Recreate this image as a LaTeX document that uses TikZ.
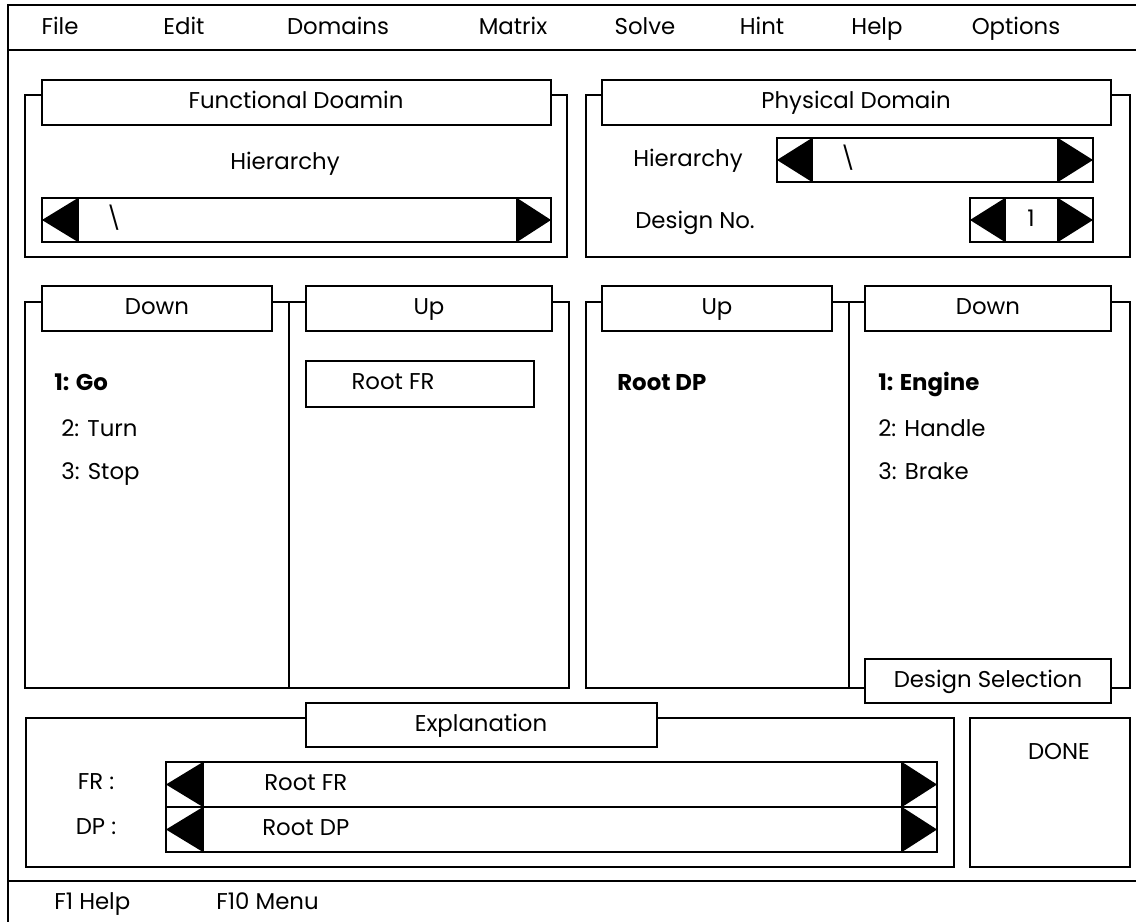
\documentclass[tikz,border=0pt]{standalone}
\usepackage{fontspec}
\setmainfont{Poppins}
\begin{document}
\begin{tikzpicture}[x=0.02cm,y=-0.02cm,
  frame/.style={line width=1.6pt},
  thin/.style={line width=1.2pt},
  titlebox/.style={line width=1.6pt,fill=white},
  lbl/.style={inner sep=0pt,text height=9.5pt,text depth=2.5pt,font=\fontsize{13}{15}\selectfont},
  lblw/.style={lbl,anchor=west},
  bold/.style={font=\fontsize{13}{15}\selectfont\bfseries}]
\useasboundingbox (0,0) rectangle (1136,922);
\fill[white] (0,0) rectangle (1136,922);

% window border, menu bar and status line
\draw[frame] (1136,5) -- (8,5) -- (8,922);
\draw[frame] (8,50) -- (1136,50);
\draw[frame] (8,881) -- (1136,881);
\node[lbl] (mFile) at (60,28) {File};
\node[lbl] (mEdit) at (184,28) {Edit};
\node[lbl] (mDom) at (338,28) {Domains};
\node[lbl] (mMat) at (513,28) {Matrix};
\node[lbl] (mSol) at (645,28) {Solve};
\node[lbl] (mHint) at (762,28) {Hint};
\node[lbl] (mHelp) at (877,28) {Help};
\node[lbl] (mOpt) at (1016,28) {Options};
\node[lblw] (f1) at (54,903) {F1 Help};
\node[lblw] (f10) at (216,903) {F10 Menu};

% functional domain group
\draw[frame] (25,95) rectangle (567,257);
\draw[titlebox] (42,80) rectangle (551,125);
\node[lbl] (fdt) at (296,102) {Functional Doamin};
\node[lbl] (fdh) at (285,163) {Hierarchy};
\draw[thin] (42,198) rectangle (551,242);
\draw[thin] (78,198) -- (78,242) (517,198) -- (517,242);
\fill (78,198) -- (78,242) -- (42,220) -- cycle;
\fill (517,198) -- (517,242) -- (551,220) -- cycle;
\node[lbl] (fdp) at (114,220) {\textbackslash};

% physical domain group
\draw[frame] (586,95) rectangle (1130,257);
\draw[titlebox] (602,80) rectangle (1111,125);
\node[lbl] (pdt) at (856,102) {Physical Domain};
\node[lbl] (pdh) at (688,160) {Hierarchy};
\draw[thin] (777,138) rectangle (1093,182);
\draw[thin] (812,138) -- (812,182) (1058,138) -- (1058,182);
\fill (812,138) -- (812,182) -- (777,160) -- cycle;
\fill (1058,138) -- (1058,182) -- (1093,160) -- cycle;
\node[lbl] (pdp) at (848,160) {\textbackslash};
\node[lbl] (pdn) at (695,222) {Design No.};
\draw[thin] (970,198) rectangle (1093,242);
\draw[thin] (1005,198) -- (1005,242) (1058,198) -- (1058,242);
\fill (1005,198) -- (1005,242) -- (970,220) -- cycle;
\fill (1058,198) -- (1058,242) -- (1093,220) -- cycle;
\node[lbl] (pdnum) at (1031,220) {1};

% FR lists
\draw[frame] (25,302) rectangle (569,688);
\draw[frame] (289,302) -- (289,688);
\draw[titlebox] (42,286) rectangle (272,331);
\node[lbl] (frd) at (157,308) {Down};
\draw[titlebox] (306,286) rectangle (552,331);
\node[lbl] (fru) at (429,308) {Up};
\draw[frame] (306,361) rectangle (534,407);
\node[lbl] (rootfr) at (393,383) {Root FR};
\node[lblw,bold] (go) at (54,384) {1: Go};
\node[lblw] (turn) at (61,430) {2: Turn};
\node[lblw] (stop) at (61,473) {3: Stop};

% DP lists
\draw[frame] (586,302) rectangle (1130,688);
\draw[frame] (849,302) -- (849,688);
\draw[titlebox] (602,286) rectangle (832,331);
\node[lbl] (dpu) at (717,308) {Up};
\draw[titlebox] (865,286) rectangle (1111,331);
\node[lbl] (dpd) at (988,308) {Down};
\node[lblw,bold] (rootdp) at (617,384) {Root DP};
\node[lblw,bold] (eng) at (878,384) {1: Engine};
\node[lblw] (hdl) at (878,430) {2: Handle};
\node[lblw] (brk) at (878,473) {3: Brake};
\draw[titlebox] (865,659) rectangle (1111,703);
\node[lbl] (dsel) at (988,681) {Design Selection};

% explanation group
\draw[frame] (26,718) rectangle (954,867);
\draw[titlebox] (306,703) rectangle (657,747);
\node[lbl] (expl) at (481,725) {Explanation};
\node[lbl] (frl) at (96,783) {FR :};
\node[lbl] (dpl) at (96,828) {DP :};
\draw[thin] (166,762) rectangle (937,852);
\draw[thin] (166,807) -- (937,807);
\draw[thin] (203,762) -- (203,852) (902,762) -- (902,852);
\fill (203,762) -- (203,807) -- (166,784.5) -- cycle;
\fill (203,807) -- (203,852) -- (166,829.5) -- cycle;
\fill (902,762) -- (902,807) -- (937,784.5) -- cycle;
\fill (902,807) -- (902,852) -- (937,829.5) -- cycle;
\node[lblw] (efr) at (264,784) {Root FR};
\node[lblw] (edp) at (262,829) {Root DP};

% done button
\draw[frame] (970,718) rectangle (1130,867);
\node[lbl] (done) at (1059,753) {DONE};
\end{tikzpicture}
\end{document}
